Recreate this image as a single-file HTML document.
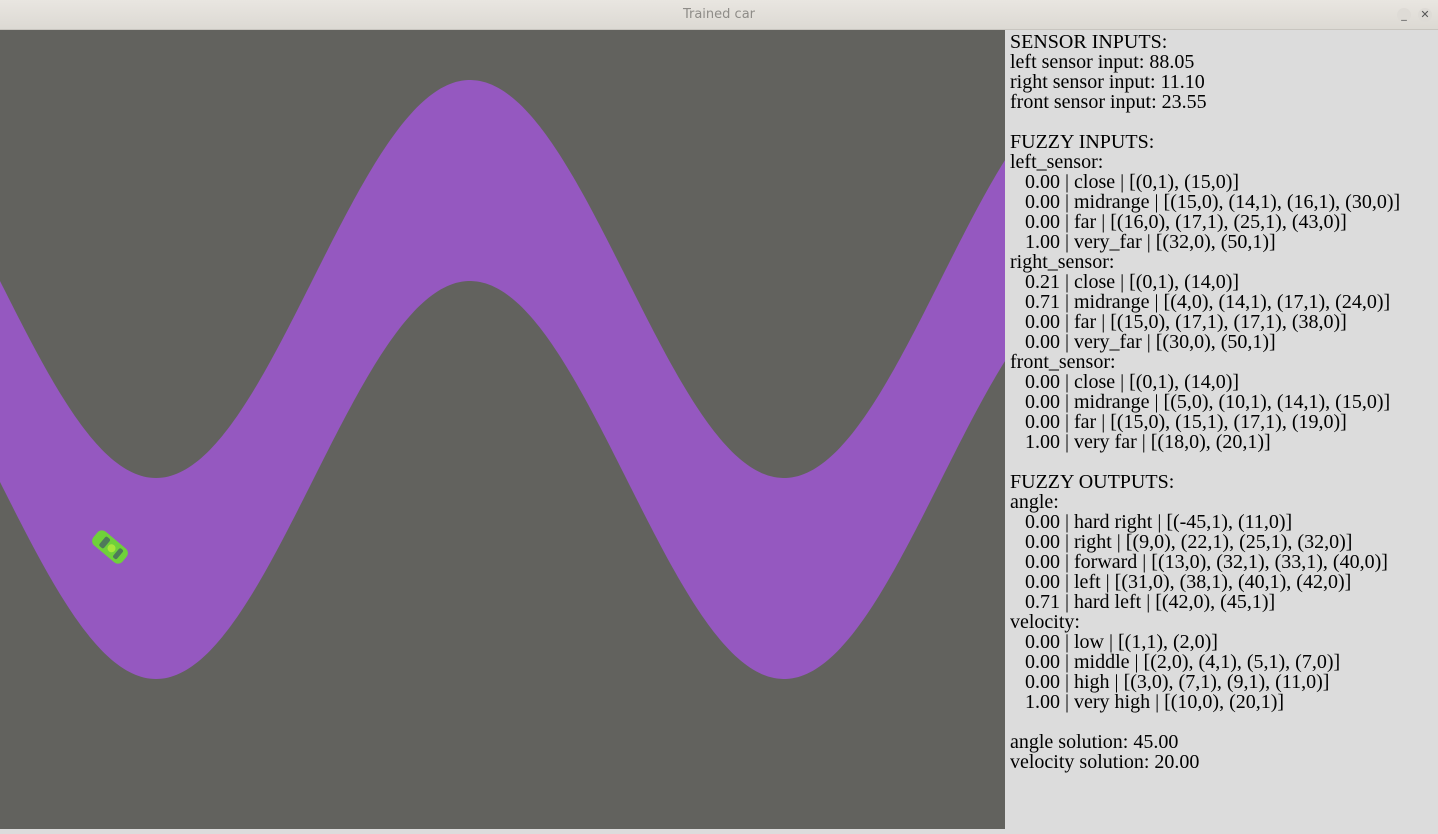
<!DOCTYPE html>
<html><head><meta charset="utf-8"><style>
body{margin:0;width:1438px;height:829px;overflow:hidden;background:#dcdcdc;position:relative;font-family:"Liberation Serif",serif}
#title{position:absolute;left:0;top:0;width:1438px;height:30px;background:linear-gradient(#e9e6e1,#dcd9d3);border-bottom:1px solid #c8c5bf;box-sizing:border-box;text-align:center;font:13px "DejaVu Sans",sans-serif;color:#8e8c88;line-height:30px}
#game{position:absolute;left:0;top:30px;width:1005px;height:799px;background:#62625e}
#panel{position:absolute;left:1005px;top:30px;width:433px;height:799px;background:#dcdcdc;padding-left:5px;padding-top:2px;box-sizing:border-box;font-size:20px;line-height:20px;color:#000;white-space:pre}
.btn{position:absolute;top:8px;width:14px;height:14px;border-radius:7px;background:#dedbd6;font:11px "DejaVu Sans",sans-serif;line-height:14px;text-align:center;color:#555}
</style></head><body>
<div id="title">Trained car</div>
<div class="btn" style="left:1397px">_</div>
<div class="btn" style="left:1418px">✕</div>
<div id="game">
<svg width="1005" height="799">
<path id="road" fill="#9558c0"/>
<g transform="translate(110,517) rotate(40)">
<rect x="-19" y="-9" width="38" height="18" rx="6" fill="#6fd13a"/>
<rect x="-10" y="-6" width="6" height="12" rx="2" fill="#4f7a5a"/>
<rect x="8" y="-6" width="5" height="12" rx="2" fill="#4f7a5a"/>
<circle cx="2" cy="0" r="4" fill="#a8e63a"/>
</g>
</svg></div>
<div id="panel">SENSOR INPUTS:
left sensor input: 88.05
right sensor input: 11.10
front sensor input: 23.55

FUZZY INPUTS:
left_sensor:
   0.00 | close | [(0,1), (15,0)]
   0.00 | midrange | [(15,0), (14,1), (16,1), (30,0)]
   0.00 | far | [(16,0), (17,1), (25,1), (43,0)]
   1.00 | very_far | [(32,0), (50,1)]
right_sensor:
   0.21 | close | [(0,1), (14,0)]
   0.71 | midrange | [(4,0), (14,1), (17,1), (24,0)]
   0.00 | far | [(15,0), (17,1), (17,1), (38,0)]
   0.00 | very_far | [(30,0), (50,1)]
front_sensor:
   0.00 | close | [(0,1), (14,0)]
   0.00 | midrange | [(5,0), (10,1), (14,1), (15,0)]
   0.00 | far | [(15,0), (15,1), (17,1), (19,0)]
   1.00 | very far | [(18,0), (20,1)]

FUZZY OUTPUTS:
angle:
   0.00 | hard right | [(-45,1), (11,0)]
   0.00 | right | [(9,0), (22,1), (25,1), (32,0)]
   0.00 | forward | [(13,0), (32,1), (33,1), (40,0)]
   0.00 | left | [(31,0), (38,1), (40,1), (42,0)]
   0.71 | hard left | [(42,0), (45,1)]
velocity:
   0.00 | low | [(1,1), (2,0)]
   0.00 | middle | [(2,0), (4,1), (5,1), (7,0)]
   0.00 | high | [(3,0), (7,1), (9,1), (11,0)]
   1.00 | very high | [(10,0), (20,1)]

angle solution: 45.00
velocity solution: 20.00</div>
<script>
var upperPts=[],lowerPts=[];
function edgeY(x){return 249-199*Math.cos(2*Math.PI*(x-470)/628);}
for(var x=0;x<=1005;x+=3){var y=edgeY(x);upperPts.push(x+','+y.toFixed(1));lowerPts.unshift(x+','+(y+201).toFixed(1));}
var y2=edgeY(1005);
upperPts.push('1005,'+y2.toFixed(1));lowerPts.unshift('1005,'+(y2+201).toFixed(1));
document.getElementById('road').setAttribute('d','M'+upperPts.join(' L')+' L'+lowerPts.join(' L')+' Z');
</script>
</body></html>
